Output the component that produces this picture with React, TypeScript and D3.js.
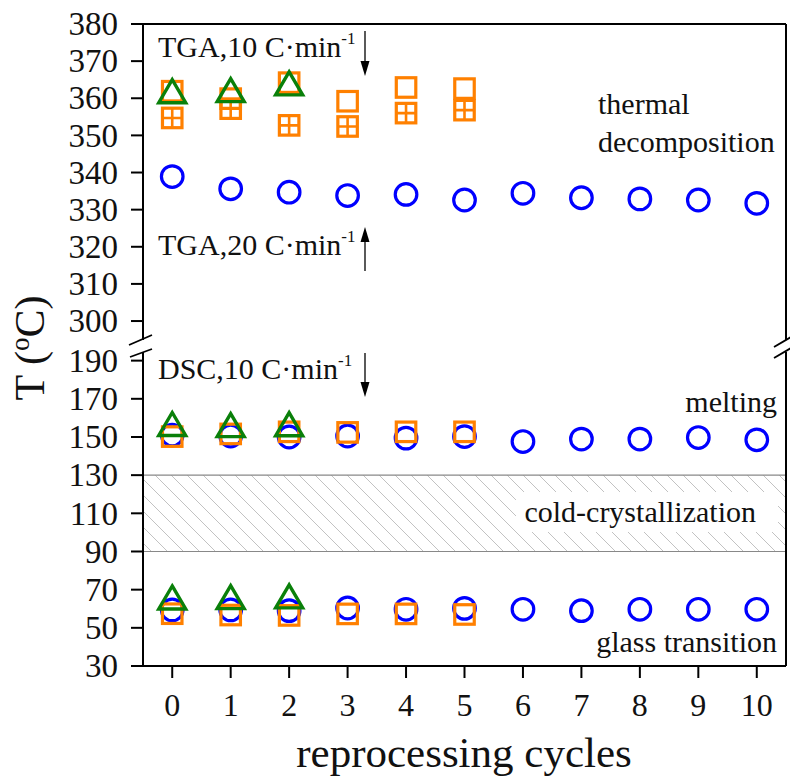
import React from "react";
import * as d3 from "d3";

// ---------- data ----------
const cycles = [0, 1, 2, 3, 4, 5, 6, 7, 8, 9, 10];
// thermal decomposition
const tga20Blue = [338.9, 335.6, 334.7, 333.8, 334.1, 332.6, 334.4, 333.2, 332.9, 332.6, 331.7];
const tga10OrangeOpen = [361.9, 359.9, 364.2, 359.2, 362.9, 362.6];
const tga10OrangeCross = [354.7, 357.2, 352.7, 352.4, 356.0, 356.8];
const tga10Green = [361.9, 362.2, 364.0];
// melting
const tmBlue = [151.0, 150.5, 150.0, 150.5, 149.4, 150.2, 147.6, 148.9, 148.9, 149.7, 148.5];
const tmOrange = [150.2, 151.6, 152.7, 152.4, 152.7, 152.7];
const tmGreen = [156.8, 156.2, 156.7];
// glass transition
const tgBlue = [59.4, 59.4, 59.0, 60.4, 59.7, 60.2, 59.7, 59.0, 59.7, 59.7, 59.7];
const tgOrange = [57.4, 56.7, 56.5, 57.3, 57.3, 57.0];
const tgGreen = [65.9, 66.1, 66.5];
// cold crystallization band
const coldBand = [90, 130];
// ticks
const upperTicks = [300, 310, 320, 330, 340, 350, 360, 370, 380];
const lowerTicks = [30, 50, 70, 90, 110, 130, 150, 170, 190];

const BLUE = "#0000ff";
const ORANGE = "#ff8000";
const GREEN = "#0a800a";
const FONT = "'Liberation Serif', 'Times New Roman', serif";

const L = 143, R = 786, T = 24, B = 666;
const breakTop = 340, breakBot = 352;

const x = d3.scaleLinear().domain([-0.5, 10.5]).range([L, R]);
const yU = d3.scaleLinear().domain([295, 380]).range([339.6, T]);
const yL = d3.scaleLinear().domain([30, 194]).range([B, 353]);

function Circles({ vals, y }: { vals: number[]; y: (v: number) => number }) {
  return (
    <g>
      {vals.map((v, i) => (
        <circle key={i} cx={x(cycles[i])} cy={y(v)} r={10.8} fill="none" stroke={BLUE} strokeWidth={3.2} />
      ))}
    </g>
  );
}
function Squares({ vals, y, cross }: { vals: number[]; y: (v: number) => number; cross?: boolean }) {
  const s = 19.5;
  return (
    <g>
      {vals.map((v, i) => {
        const cx = x(cycles[i]);
        const cy = y(v);
        return (
          <g key={i}>
            <rect x={cx - s / 2} y={cy - s / 2} width={s} height={s} fill="none" stroke={ORANGE} strokeWidth={3.2} />
            {cross && (
              <path d={`M${cx},${cy - s / 2}V${cy + s / 2}M${cx - s / 2},${cy}H${cx + s / 2}`} stroke={ORANGE} strokeWidth={2.6} />
            )}
          </g>
        );
      })}
    </g>
  );
}
function Triangles({ vals, y }: { vals: number[]; y: (v: number) => number }) {
  const w = 27, h = 23;
  return (
    <g>
      {vals.map((v, i) => {
        const cx = x(cycles[i]);
        const cy = y(v);
        return (
          <path
            key={i}
            d={`M${cx},${cy - h / 2}L${cx + w / 2},${cy + h / 2}L${cx - w / 2},${cy + h / 2}Z`}
            fill="none"
            stroke={GREEN}
            strokeWidth={3.4}
          />
        );
      })}
    </g>
  );
}

function Arrow({ xPos, y1, y2 }: { xPos: number; y1: number; y2: number }) {
  const dir = y2 > y1 ? 1 : -1;
  const hl = 15, hw = 4.5;
  return (
    <g>
      <line x1={xPos} y1={y1} x2={xPos} y2={y2 - dir * hl} stroke="#000" strokeWidth={1.3} />
      <path d={`M${xPos},${y2}L${xPos - hw},${y2 - dir * hl}L${xPos + hw},${y2 - dir * hl}Z`} fill="#000" />
    </g>
  );
}

function Label({ x0, y0, main }: { x0: number; y0: number; main: string }) {
  return (
    <text x={x0} y={y0} fontSize={30} fontFamily={FONT} fill="#111">
      {main}
      <tspan fontSize={17} dy={-13}>-1</tspan>
    </text>
  );
}

export default function App() {
  return (
    <svg width={790} height={780} style={{ position: "absolute", left: 0, top: 0 }}>
      <defs>
        <pattern id="hatch" patternUnits="userSpaceOnUse" width={16} height={16}>
          <path d="M0,0L16,16M-8,8L8,24M8,-8L24,8" stroke="#a8a8a8" strokeWidth={0.7} />
        </pattern>
        <clipPath id="plotclip">
          <rect x={L} y={T} width={R - L} height={B - T} />
        </clipPath>
      </defs>
      <rect width={790} height={780} fill="#fff" />

      {/* cold crystallization band */}
      <rect x={L} y={yL(coldBand[1])} width={R - L} height={yL(coldBand[0]) - yL(coldBand[1])} fill="url(#hatch)" />
      <rect x={516} y={492} width={262} height={40} fill="#fff" />
      <line x1={L} x2={R} y1={yL(coldBand[1])} y2={yL(coldBand[1])} stroke="#888" strokeWidth={1.2} />
      <line x1={L} x2={R} y1={yL(coldBand[0])} y2={yL(coldBand[0])} stroke="#888" strokeWidth={1.2} />

      {/* y ticks */}
      {upperTicks.map((t) => (
        <g key={"u" + t}>
          <line x1={L - 12} x2={L} y1={yU(t)} y2={yU(t)} stroke="#000" strokeWidth={2} />
          <text x={118} y={yU(t)} dy="0.34em" textAnchor="end" fontSize={33} fontFamily={FONT} fill="#111">
            {t}
          </text>
        </g>
      ))}
      {lowerTicks.map((t) => (
        <g key={"l" + t}>
          <line x1={L - 12} x2={L} y1={yL(t)} y2={yL(t)} stroke="#000" strokeWidth={2} />
          <text x={118} y={yL(t)} dy="0.34em" textAnchor="end" fontSize={33} fontFamily={FONT} fill="#111">
            {t}
          </text>
        </g>
      ))}
      {/* x ticks */}
      {cycles.map((c) => (
        <g key={"x" + c}>
          <line x1={x(c)} x2={x(c)} y1={B} y2={B + 12} stroke="#000" strokeWidth={2} />
          <text x={x(c)} y={716} textAnchor="middle" fontSize={32} fontFamily={FONT} fill="#111">
            {c}
          </text>
        </g>
      ))}

      {/* frame */}
      <g stroke="#000" strokeWidth={2} fill="none">
        <line x1={L} x2={R} y1={T} y2={T} />
        <line x1={L} x2={R} y1={B} y2={B} />
        <line x1={L} x2={L} y1={T} y2={breakTop} />
        <line x1={L} x2={L} y1={breakBot} y2={B} />
        <line x1={R} x2={R} y1={T} y2={breakTop} />
        <line x1={R} x2={R} y1={breakBot} y2={B} />
        <line x1={L - 14} x2={L + 9} y1={breakTop + 5} y2={breakTop - 5} strokeWidth={1.8} />
        <line x1={L - 13} x2={L + 9} y1={breakBot + 5} y2={breakBot - 3} strokeWidth={1.8} />
        <line x1={R - 12} x2={R + 5} y1={breakTop + 7} y2={breakTop - 3} strokeWidth={1.8} />
        <line x1={R - 12} x2={R + 5} y1={breakBot + 6} y2={breakBot - 4} strokeWidth={1.8} />
      </g>

      {/* data */}
      <g clipPath="url(#plotclip)">
        <Circles vals={tga20Blue} y={yU} />
        <Squares vals={tga10OrangeOpen} y={yU} />
        <Squares vals={tga10OrangeCross} y={yU} cross />
        <Triangles vals={tga10Green} y={yU} />

        <Circles vals={tmBlue} y={yL} />
        <Squares vals={tmOrange} y={yL} />
        <Triangles vals={tmGreen} y={yL} />

        <Circles vals={tgBlue} y={yL} />
        <Squares vals={tgOrange} y={yL} />
        <Triangles vals={tgGreen} y={yL} />
      </g>

      {/* annotations */}
      <Label x0={158} y0={57} main="TGA,10 C·min" />
      <Arrow xPos={365} y1={31} y2={76} />
      <Label x0={158} y0={255} main="TGA,20 C·min" />
      <Arrow xPos={365} y1={271} y2={227} />
      <Label x0={158} y0={379} main="DSC,10 C·min" />
      <Arrow xPos={365} y1={353} y2={397} />

      <text x={598} y={114} fontSize={30} fontFamily={FONT} fill="#111">thermal</text>
      <text x={598} y={152} fontSize={30} fontFamily={FONT} fill="#111">decomposition</text>
      <text x={777} y={412} textAnchor="end" fontSize={30} fontFamily={FONT} fill="#111">melting</text>
      <text x={756} y={522} textAnchor="end" fontSize={30} fontFamily={FONT} fill="#111">cold-crystallization</text>
      <text x={777} y={652} textAnchor="end" fontSize={30} fontFamily={FONT} fill="#111">glass transition</text>

      {/* axis titles */}
      <text x={464} y={767} textAnchor="middle" fontSize={43} fontFamily={FONT} fill="#111">
        reprocessing cycles
      </text>
      <text
        x={44}
        y={348}
        transform="rotate(-90, 44, 348)"
        textAnchor="middle"
        fontSize={42}
        fontFamily={FONT}
        fill="#111"
      >
        T (<tspan fontSize={27} dy={-15}>o</tspan>
        <tspan dy={15}>C)</tspan>
      </text>
    </svg>
  );
}
